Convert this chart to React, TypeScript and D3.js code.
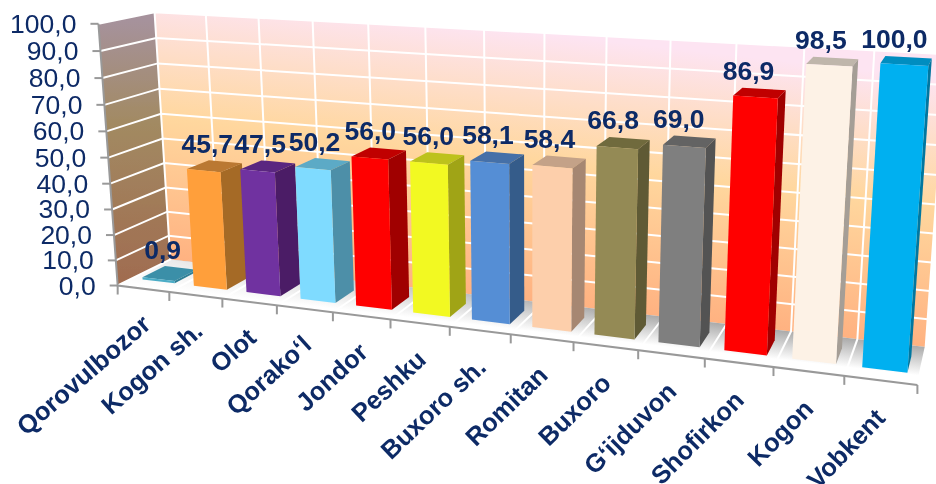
import React from "react";
import * as d3 from "d3";

const categories = ["Qorovulbozor","Kogon sh.","Olot","Qorako‘l","Jondor","Peshku","Buxoro sh.","Romitan","Buxoro","G‘ijduvon","Shofirkon","Kogon","Vobkent"];
const values = [0.9,45.7,47.5,50.2,56.0,56.0,58.1,58.4,66.8,69.0,86.9,98.5,100.0];
const frontColors = ["#4BACC6","#FF9F3B","#7030A0","#7FDBFF","#FF0000","#F2F923","#558ED5","#FDCFAB","#948A54","#7F7F7F","#FF0000","#FDF2E6","#00B0F0"];
const sideColors = ["#2F7F96","#A56A28","#4C1F66","#4E8FA8","#A00000","#A0A418","#355B8A","#A68772","#5F5A36","#525252","#A00000","#A59E96","#0077A0"];
const topColors = ["#3B8FA8","#BA7830","#5A2680","#5BAAC6","#C00000","#BDC21A","#4470A8","#C4A288","#6F6A3E","#636363","#C00000","#BFB6AB","#008DC0"];
const valueTicks = d3.range(0, 101, 10);
const navy = "#0B2A66";

// Camera fit: screen positions of the plot box corners [u, v, w, x, y]
const anchors = [
  [0,0,0,118,285],[13,0,0,916,385],[0,0,1,170,260],[13,0,1,927,347],
  [0,100,1,155,12],[13,100,1,945,54],[0,100,0,98,24],[13,100,0,941,72],
];

function solve(A: number[][], b: number[]) {
  const n = b.length;
  const M = A.map((r, i) => [...r, b[i]]);
  for (let c = 0; c < n; c++) {
    let p = c;
    for (let r = c + 1; r < n; r++) if (Math.abs(M[r][c]) > Math.abs(M[p][c])) p = r;
    [M[c], M[p]] = [M[p], M[c]];
    for (let r = 0; r < n; r++) {
      if (r === c) continue;
      const f = M[r][c] / M[c][c];
      for (let k = c; k <= n; k++) M[r][k] -= f * M[c][k];
    }
  }
  return M.map((r, i) => r[n] / r[i]);
}

function fitCamera() {
  const rows: number[][] = [], rhs: number[] = [];
  anchors.forEach(([u, v, w, x, y]) => {
    const U = u / 13, V = v / 100, X = x / 1000, Y = y / 1000;
    rows.push([U, V, w, 1, 0, 0, 0, 0, -X * U, -X * V, -X * w]); rhs.push(X);
    rows.push([0, 0, 0, 0, U, V, w, 1, -Y * U, -Y * V, -Y * w]); rhs.push(Y);
  });
  const AtA = d3.range(11).map(i => d3.range(11).map(j => d3.sum(rows, r => r[i] * r[j])));
  const Atb = d3.range(11).map(i => d3.sum(rows, (r, k) => r[i] * rhs[k]));
  return solve(AtA, Atb);
}
const m = fitCamera();
const uScale = d3.scaleLinear().domain([0, 13]).range([0, 1]);
const vScale = d3.scaleLinear().domain([0, 100]).range([0, 1]);

function P(u: number, v: number, w: number): [number, number] {
  const U = uScale(u), V = vScale(v);
  const d = m[8] * U + m[9] * V + m[10] * w + 1;
  return [1000 * (m[0] * U + m[1] * V + m[2] * w + m[3]) / d, 1000 * (m[4] * U + m[5] * V + m[6] * w + m[7]) / d];
}
const line = d3.line();
const poly = (pts: [number, number][]) => line(pts) + "Z";

const B0 = 0.2, B1 = 0.83, W0 = 0.27, W1 = 0.7;

export default function App() {
  const right = categories.length;
  return (
    <svg width={936} height={484} style={{ position: "absolute", left: 0, top: 0 }} fontFamily="'Liberation Sans', Arial, sans-serif">
      <defs>
        <linearGradient id="wall" gradientUnits="userSpaceOnUse" x1={540} y1={33} x2={508} y2={313}>
          <stop offset="0" stopColor="#FDE4F2" />
          <stop offset="0.45" stopColor="#FFD79E" />
          <stop offset="1" stopColor="#FFAE7E" />
        </linearGradient>
        <linearGradient id="side" gradientUnits="userSpaceOnUse" x1={130} y1={20} x2={130} y2={280}>
          <stop offset="0" stopColor="#A6929C" />
          <stop offset="0.4" stopColor="#A28A62" />
          <stop offset="1" stopColor="#A06C50" />
        </linearGradient>
        <linearGradient id="floor" gradientUnits="userSpaceOnUse" x1={548} y1={303} x2={544} y2={338}>
          <stop offset="0" stopColor="#A8A8A8" />
          <stop offset="0.85" stopColor="#FFFFFF" />
        </linearGradient>
        <linearGradient id="floorFade" gradientUnits="userSpaceOnUse" x1={120} y1={0} x2={620} y2={0}>
          <stop offset="0" stopColor="#FFFFFF" stopOpacity={0.85} />
          <stop offset="1" stopColor="#FFFFFF" stopOpacity={0} />
        </linearGradient>
        <filter id="soft" x="-5%" y="-5%" width="110%" height="110%"><feGaussianBlur stdDeviation="0.45" /></filter>
      </defs>
      <g filter="url(#soft)">
        <path d={poly([P(0, 0, 1), P(right, 0, 1), P(right, 100, 1), P(0, 100, 1)])} fill="url(#wall)" />
        <path d={poly([P(0, 0, 0), P(0, 0, 1), P(0, 100, 1), P(0, 100, 0)])} fill="url(#side)" />
        <path d={poly([P(0, 0, 0), P(right, 0, 0), P(right, 0, 1), P(0, 0, 1)])} fill="url(#floor)" />
        <path d={poly([P(0, 0, 0), P(right, 0, 0), P(right, 0, 1), P(0, 0, 1)])} fill="url(#floorFade)" />
        {valueTicks.slice(1).map(v => (
          <path key={v} d={line([P(0, v, 0), P(0, v, 1), P(right, v, 1)])!} fill="none" stroke="#fff" strokeWidth={2} />
        ))}
        {d3.range(0, right + 1).map(u => (
          <path key={u} d={line([P(u, 0, 0), P(u, 0, 1), P(u, 100, 1)])!} fill="none" stroke="#fff" strokeWidth={2} />
        ))}
        <path d={line([P(0, 100, 0), P(0, 0, 0), P(right, 0, 0)])!} fill="none" stroke="#999" strokeWidth={2} />
        {valueTicks.map(v => {
          const [x, y] = P(0, v, 0);
          return <line key={v} x1={x - 8} x2={x} y1={y} y2={y} stroke="#999" strokeWidth={2} />;
        })}
        {d3.range(0, right + 1).map(u => {
          const [x, y] = P(u, 0, 0);
          return <line key={u} x1={x} x2={x} y1={y} y2={y + 9} stroke="#999" strokeWidth={2} />;
        })}
        {values.map((val, i) => {
          const a = i + B0, b = i + B1;
          return (
            <g key={i}>
              <path d={poly([P(a, val, W0), P(b, val, W0), P(b, val, W1), P(a, val, W1)])} fill={topColors[i]} />
              <path d={poly([P(b, 0, W0), P(b, 0, W1), P(b, val, W1), P(b, val, W0)])} fill={sideColors[i]} />
              <path d={poly([P(a, 0, W0), P(b, 0, W0), P(b, val, W0), P(a, val, W0)])} fill={frontColors[i]} />
            </g>
          );
        })}
        {valueTicks.map(v => {
          const [x, y] = P(0, v, 0);
          return <text key={v} x={x - 22} y={y + 9} textAnchor="end" fontSize={26.5} fill={navy}>{v.toFixed(1).replace(".", ",")}</text>;
        })}
        {values.map((val, i) => {
          const [tx, ty] = P(i + (B0 + B1) / 2, val, W1);
          const [cx] = P(i + (B0 + B1) / 2, val, (W0 + W1) / 2);
          return <text key={i} x={cx - 7 - 5 * i / 12} y={ty - 9} textAnchor="middle" fontSize={26.5} fontWeight="bold" fill={navy}>{val.toFixed(1).replace(".", ",")}</text>;
        })}
        {categories.map((c, i) => {
          const [x, y] = P(i + 0.5, 0, 0);
          return <text key={c} transform={`translate(${x + 9 - 3 * i / 12},${y + 38 + i / 12}) rotate(${-41 - 5 * i / 12})`} textAnchor="end" fontSize={25.5} fontWeight="bold" fill={navy}>{c}</text>;
        })}
      </g>
    </svg>
  );
}
